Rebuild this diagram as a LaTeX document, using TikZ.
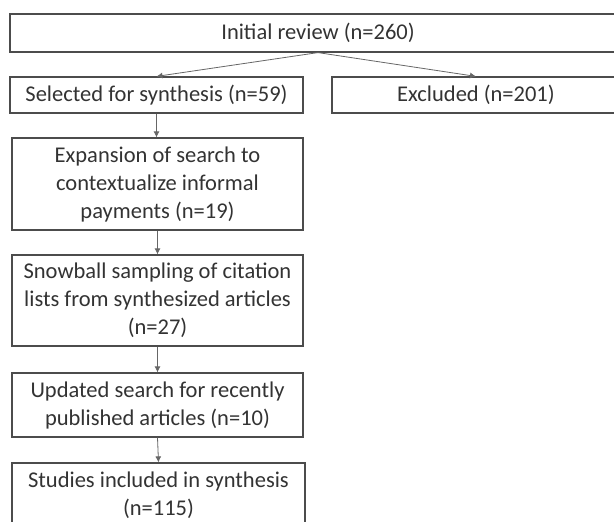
\documentclass[tikz,border=0pt]{standalone}
\usepackage{fontspec}
\setmainfont{Carlito}
\usetikzlibrary{arrows.meta}

\begin{document}
\begin{tikzpicture}[x=1pt,y=-1pt,
    box/.style={draw=black!70,line width=1.2pt,fill=white,text=black!80,inner sep=0pt,align=center,font=\fontsize{22.5}{28}\selectfont},
    flow/.style={draw=black!60,line width=0.8pt,-{Latex[length=6pt,width=6pt]}}]
   \clip (0,0) rectangle (614,522);

   % top row
   \node[box,minimum width=616pt,minimum height=38pt] (review) at (318,33) {Initial review (n=260)};
   \node[box,minimum width=293pt,minimum height=36pt] (selected) at (156.5,95) {Selected for synthesis (n=59)};
   \node[box,minimum width=288pt,minimum height=36pt] (excluded) at (476,95) {Excluded (n=201)};

   % column of search steps
   \node[box,minimum width=291pt,minimum height=92pt] (expansion) at (157.5,184) {Expansion of search to\\contextualize informal\\payments (n=19)};
   \node[box,minimum width=291pt,minimum height=91pt] (snowball) at (157.5,300.5) {Snowball sampling of citation\\lists from synthesized articles\\(n=27)};
   \node[box,minimum width=291pt,minimum height=64pt] (updated) at (157.5,405) {Updated search for recently\\published articles (n=10)};
   \node[box,minimum width=293pt,minimum height=64pt] (studies) at (158.5,495) {Studies included in synthesis\\(n=115)};

   \draw[flow] (review.south) -- (selected.north);
   \draw[flow] (review.south) -- (excluded.north);
   \draw[flow] (selected.south) -- (selected.south |- expansion.north);
   \draw[flow] (expansion.south) -- (snowball.north);
   \draw[flow] (snowball.south) -- (updated.north);
   \draw[flow] (updated.south) -- (studies.north);

\end{tikzpicture}
\end{document}
